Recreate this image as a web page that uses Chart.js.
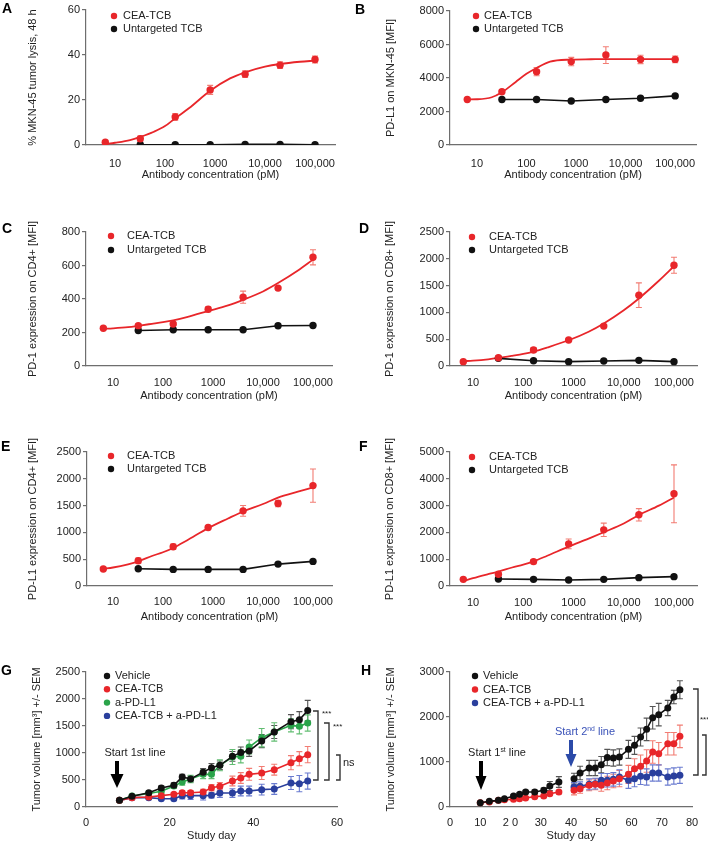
<!DOCTYPE html>
<html><head><meta charset="utf-8">
<script src="https://cdn.jsdelivr.net/npm/chart.js@4/dist/chart.umd.min.js"></script>
<style>
html,body{margin:0;padding:0;background:#fff;}
#fig{position:relative;width:708px;height:843px;overflow:hidden;font-family:"Liberation Sans",Arial,sans-serif;}
canvas{position:absolute;}
.lbl{position:absolute;font-weight:bold;font-size:14px;line-height:14px;color:#000;}
</style></head><body>
<div id="fig">
<canvas id="cA" width="354" height="210" style="left:0;top:0"></canvas>
<canvas id="cB" width="354" height="210" style="left:354px;top:0"></canvas>
<canvas id="cC" width="354" height="210" style="left:0;top:210px"></canvas>
<canvas id="cD" width="354" height="210" style="left:354px;top:210px"></canvas>
<canvas id="cE" width="354" height="210" style="left:0;top:420px"></canvas>
<canvas id="cF" width="354" height="210" style="left:354px;top:420px"></canvas>
<canvas id="cG" width="354" height="213" style="left:0;top:630px"></canvas>
<canvas id="cH" width="354" height="213" style="left:354px;top:630px"></canvas>
<div class="lbl" style="left:2px;top:1px">A</div>
<div class="lbl" style="left:355px;top:2px">B</div>
<div class="lbl" style="left:2px;top:221px">C</div>
<div class="lbl" style="left:359px;top:221px">D</div>
<div class="lbl" style="left:1px;top:439px">E</div>
<div class="lbl" style="left:359px;top:439px">F</div>
<div class="lbl" style="left:1px;top:663px">G</div>
<div class="lbl" style="left:361px;top:663px">H</div>
</div>
<script>
// ---------- data ----------
const conc = [6.4, 32, 160, 800, 4000, 20000, 100000];
const concUnt = [32, 160, 800, 4000, 20000, 100000];
const fitConc = [6.4, 10, 20, 32, 60, 100, 160, 300, 800, 2000, 4000, 10000, 20000, 50000, 100000];
const logTicks = [10, 100, 1000, 10000, 100000];
const logTickLabels = ['10', '100', '1000', '10,000', '100,000'];

const A_cea = [1.2, 2.8, 12.5, 24.5, 31.5, 35.5, 38.0];
const A_ceaErr = [0.5, 1.2, 1.5, 2.0, 1.5, 1.5, 1.5];
const A_unt = [0.1, 0.1, 0.1, 0.3, 0.3, 0.1];
const A_fit = [0.4, 1.0, 2.2, 3.6, 5.9, 8.4, 11.9, 16.3, 24.1, 29.6, 32.3, 34.8, 36.0, 37.0, 37.5];

const B_cea = [2720, 3180, 4380, 4980, 5370, 5110, 5110];
const B_ceaErr = [40, 80, 250, 250, 500, 250, 200];
const B_unt = [2720, 2720, 2630, 2720, 2790, 2930];
const B_fit = [2720, 2730, 2850, 3150, 3750, 4250, 4600, 4980, 5100, 5120, 5130, 5130, 5130, 5130, 5130];

const C_cea = [225, 241, 251, 339, 411, 465, 649];
const C_ceaErr = [5, 8, 8, 15, 36, 8, 45];
const C_unt = [212, 216, 216, 216, 240, 242];
const C_fit = [222, 225, 232, 240, 252, 262, 273, 292, 328, 362, 395, 445, 495, 570, 635];

const D_cea = [81, 155, 298, 484, 744, 1321, 1880];
const D_ceaErr = [10, 15, 45, 20, 30, 230, 150];
const D_unt = [143, 99, 81, 93, 105, 81];
const D_fit = [90, 100, 125, 150, 190, 225, 268, 345, 480, 640, 794, 1040, 1260, 1590, 1861];

const E_cea = [316, 471, 732, 1092, 1402, 1538, 1873];
const E_ceaErr = [10, 50, 50, 20, 100, 60, 310];
const E_unt = [322, 310, 310, 310, 409, 459];
const E_fit = [320, 345, 405, 460, 560, 630, 710, 850, 1080, 1260, 1390, 1530, 1650, 1760, 1840];

const F_cea = [249, 436, 910, 1571, 2095, 2656, 3441];
const F_ceaErr = [20, 60, 80, 180, 250, 230, 1080];
const F_unt = [262, 249, 224, 249, 312, 349];
const F_fit = [180, 290, 440, 536, 690, 800, 920, 1130, 1471, 1770, 2007, 2330, 2650, 3000, 3304];

const G_days = [8, 11, 15, 18, 21, 23, 25, 28, 30, 32, 35, 37, 39, 42, 45, 49, 51, 53];
const G_vehicle = [123, 198, 265, 352, 401, 556, 519, 645, 725, 772, 938, 1010, 1037, 1220, 1389, 1580, 1617, 1785];
const G_vehicleErr = [15, 25, 30, 40, 45, 50, 55, 65, 80, 80, 90, 100, 100, 120, 120, 130, 150, 190];
const G_cea = [123, 173, 185, 210, 235, 265, 265, 278, 358, 383, 481, 537, 605, 630, 691, 821, 895, 969];
const G_ceaErr = [10, 20, 25, 30, 30, 40, 40, 50, 60, 70, 90, 100, 110, 120, 100, 130, 130, 150];
const G_apdl1 = [123, 204, 250, 290, 389, 463, 519, 605, 605, 772, 926, 938, 1111, 1284, 1389, 1512, 1494, 1556];
const G_apdl1Err = [10, 20, 30, 40, 40, 60, 70, 80, 80, 100, 140, 120, 130, 170, 170, 120, 140, 150];
const G_combo = [123, 173, 173, 154, 154, 210, 210, 210, 216, 259, 259, 296, 296, 321, 333, 444, 432, 481];
const G_comboErr = [10, 20, 30, 30, 30, 60, 70, 80, 50, 80, 80, 90, 90, 100, 100, 120, 150, 150];

const H_days1 = [10, 13, 16, 18, 21, 23, 25, 28, 31, 33, 36];
const H_days2 = [41, 43, 46, 48, 50, 52, 54, 56, 59, 61, 63, 65, 67, 69, 72, 74, 76];
const H_gapDay = [38];
const H_vehicle1 = [96, 126, 148, 185, 244, 281, 333, 333, 370, 467, 556];
const H_vehicle1Err = [10, 15, 20, 25, 30, 35, 40, 45, 50, 100, 120];
const H_vehicle2 = [630, 756, 867, 867, 941, 1100, 1089, 1111, 1281, 1370, 1556, 1726, 1985, 2052, 2200, 2444, 2607];
const H_vehicle2Err = [120, 150, 170, 170, 180, 180, 180, 180, 200, 200, 200, 250, 250, 250, 170, 150, 200];
const H_cea1 = [96, 111, 148, 163, 170, 185, 200, 230, 244, 296, 333];
const H_cea1Err = [10, 10, 15, 20, 20, 25, 25, 30, 30, 40, 40];
const H_cea2 = [370, 407, 481, 504, 481, 533, 578, 630, 726, 852, 904, 1022, 1222, 1185, 1407, 1407, 1570];
const H_cea2Err = [100, 100, 120, 120, 130, 150, 150, 180, 200, 220, 250, 250, 250, 250, 250, 250, 250];
const H_combo2 = [444, 459, 504, 519, 593, 593, 615, 667, 593, 630, 681, 667, 756, 756, 667, 689, 704];
const H_combo2Err = [100, 100, 120, 120, 150, 150, 150, 160, 180, 180, 180, 180, 180, 180, 180, 180, 180];
const H_xTickLabels = ['0', '10', '2 0', '30', '40', '50', '60', '70', '80'];

// ---------- styles ----------
const RED = '#e8262a', RED_ERR = '#f27c73';
const BLACK = '#111111', BLACK_ERR = '#555555';
const GREEN = '#2aa44a', GREEN_ERR = '#62bd72';
const BLUE = '#2a3f9d', BLUE_ERR = '#6a7bd0';
const AXIS = '#6e6e6e', TXT = '#222222';
const FAM = '"Liberation Sans", Arial, sans-serif';
Chart.defaults.font.family = FAM;
Chart.defaults.color = TXT;

// ---------- plugins ----------
const errorBars = {
  id: 'errorBars',
  beforeDatasetsDraw(chart) {
    const ctx = chart.ctx, xs = chart.scales.x, ys = chart.scales.y;
    chart.data.datasets.forEach((ds) => {
      if (!ds.errs) return;
      ctx.save();
      ctx.strokeStyle = ds.errColor; ctx.lineWidth = 1.1;
      const cap = 3;
      ds.data.forEach((p, j) => {
        if (!p || p.y == null) return;
        const e = ds.errs[j]; if (!e) return;
        const px = xs.getPixelForValue(p.x);
        const y1 = ys.getPixelForValue(p.y + e), y2 = ys.getPixelForValue(Math.max(p.y - e, 0));
        ctx.beginPath();
        ctx.moveTo(px, y1); ctx.lineTo(px, y2);
        ctx.moveTo(px - cap, y1); ctx.lineTo(px + cap, y1);
        ctx.moveTo(px - cap, y2); ctx.lineTo(px + cap, y2);
        ctx.stroke();
      });
      ctx.restore();
    });
  }
};

function drawParts(ctx, parts, cx, cy, size, color) {
  ctx.save();
  ctx.fillStyle = color; ctx.textBaseline = 'middle';
  let total = 0;
  parts.forEach(p => { ctx.font = (p.sup ? size * 0.62 : size) + 'px ' + FAM; total += ctx.measureText(p.t).width; });
  let x = cx - total / 2;
  parts.forEach(p => {
    ctx.font = (p.sup ? size * 0.62 : size) + 'px ' + FAM;
    ctx.fillText(p.t, x, p.sup ? cy - size * 0.3 : cy);
    x += ctx.measureText(p.t).width;
  });
  ctx.restore();
}

const panelDecor = {
  id: 'panelDecor',
  afterDraw(chart, args, opts) {
    const ctx = chart.ctx;
    const d = opts.decor; if (!d) return;
    ctx.save();
    if (d.legend) {
      const L = d.legend;
      L.items.forEach((it, k) => {
        const y = L.y + k * L.dy;
        ctx.fillStyle = it.color;
        ctx.beginPath(); ctx.arc(L.x, y, 3.2, 0, Math.PI * 2); ctx.fill();
        ctx.fillStyle = TXT; ctx.font = '11px ' + FAM; ctx.textBaseline = 'middle'; ctx.textAlign = 'left';
        ctx.fillText(it.label, L.tx, y);
      });
    }
    (d.arrows || []).forEach(a => {
      ctx.fillStyle = a.color;
      const sw = a.sw / 2, hw = a.hw / 2, hy = a.y2 - a.hl;
      ctx.beginPath();
      ctx.moveTo(a.x - sw, a.y1); ctx.lineTo(a.x + sw, a.y1); ctx.lineTo(a.x + sw, hy);
      ctx.lineTo(a.x + hw, hy); ctx.lineTo(a.x, a.y2); ctx.lineTo(a.x - hw, hy);
      ctx.lineTo(a.x - sw, hy); ctx.closePath(); ctx.fill();
    });
    (d.texts || []).forEach(t => drawParts(ctx, t.parts, t.x, t.y, t.size, t.color));
    (d.brackets || []).forEach(b => {
      ctx.strokeStyle = '#333'; ctx.lineWidth = 1.4;
      ctx.beginPath();
      ctx.moveTo(b.x - b.w, b.y1); ctx.lineTo(b.x, b.y1); ctx.lineTo(b.x, b.y2); ctx.lineTo(b.x - b.w, b.y2);
      ctx.stroke();
    });
    (d.marks || []).forEach(m => {
      ctx.fillStyle = TXT; ctx.font = m.size + 'px ' + FAM; ctx.textBaseline = 'middle'; ctx.textAlign = 'left';
      ctx.fillText(m.t, m.x, m.y);
    });
    ctx.restore();
  }
};

const TICKF = {size: 11, family: FAM};
const TITLEF = {size: 11, family: FAM};

function yScale(c) {
  return {
    type: 'linear', min: 0, max: c.yMax,
    ticks: {stepSize: c.yStep, font: TICKF, color: TXT, padding: 2, callback: v => String(v)},
    grid: {drawOnChartArea: false, drawTicks: true, tickLength: 4, color: AXIS, lineWidth: 1.2},
    border: {display: true, color: AXIS, width: 1.2},
    title: {display: true, text: c.yTitle, font: TITLEF, color: TXT, padding: {top: c.yTitleX - 6.6, bottom: 0}},
    afterFit: s => { s.width = c.axisX; }
  };
}

function xTitle(c, text) {
  return {display: true, text: text, font: TITLEF, color: TXT, padding: {top: 0, bottom: Math.max(c.H - c.xTitleY - 6.6, 0)}};
}

function baseOptions(c) {
  return {
    animation: false, responsive: false, devicePixelRatio: 1,
    layout: {padding: {left: 0, top: c.top, right: c.W - c.right, bottom: 0}},
    plugins: {legend: {display: false}, tooltip: {enabled: false}, panelDecor: {decor: c.decor}},
  };
}

function doseChart(id, c) {
  c.W = 354; c.H = 210;
  const opts = baseOptions(c);
  opts.scales = {
    x: {
      type: 'logarithmic', min: c.logMin, max: c.logMax,
      afterBuildTicks: s => { s.ticks = logTicks.map(v => ({value: v})); },
      ticks: {font: TICKF, color: TXT, padding: c.xPad, maxRotation: 0, autoSkip: false,
        callback: (v) => logTickLabels[logTicks.indexOf(v)]},
      grid: {display: false, drawTicks: false},
      border: {display: true, color: AXIS, width: 1.2},
      title: xTitle(c, 'Antibody concentration (pM)'),
      afterFit: s => { s.height = c.H - c.bottom; }
    },
    y: yScale(c)
  };
  c.decor.legend.items = [{label: 'CEA-TCB', color: RED}, {label: 'Untargeted TCB', color: BLACK}];
  return new Chart(document.getElementById(id), {
    type: 'line',
    data: {datasets: [
      {label: 'CEA-TCB', data: conc.map((x, i) => ({x, y: c.cea[i]})), showLine: false,
        pointRadius: 3.7, pointBackgroundColor: RED, pointBorderColor: RED, pointBorderWidth: 0,
        errs: c.ceaErr, errColor: RED_ERR},
      {label: 'Untargeted TCB', data: concUnt.map((x, i) => ({x, y: c.unt[i]})),
        borderColor: BLACK, borderWidth: 1.6, pointRadius: 3.7, pointBackgroundColor: BLACK, pointBorderColor: BLACK, pointBorderWidth: 0, tension: 0},
      {label: 'fit', data: fitConc.map((x, i) => ({x, y: c.fit[i]})),
        borderColor: RED, borderWidth: 1.8, pointRadius: 0, cubicInterpolationMode: 'monotone'}
    ]},
    options: opts,
    plugins: [errorBars, panelDecor]
  });
}

doseChart('cA', {yMax: 60, yStep: 20, yTitle: '% MKN-45 tumor lysis, 48 h', axisX: 86, top: 10, bottom: 145, right: 335,
  logMin: 2.63, logMax: 251000, yTitleX: 33, xTitleY: 175, xPad: 12,
  cea: A_cea, ceaErr: A_ceaErr, unt: A_unt, fit: A_fit,
  decor: {legend: {x: 114, y: 16, tx: 123, dy: 13}}});
doseChart('cB', {yMax: 8000, yStep: 2000, yTitle: 'PD-L1 on MKN-45 [MFI]', axisX: 96, top: 11, bottom: 145, right: 343,
  logMin: 2.87, logMax: 263000, yTitleX: 37, xTitleY: 175, xPad: 12,
  cea: B_cea, ceaErr: B_ceaErr, unt: B_unt, fit: B_fit,
  decor: {legend: {x: 122, y: 16, tx: 130, dy: 13}}});
doseChart('cC', {yMax: 800, yStep: 200, yTitle: 'PD-1 expression on CD4+ [MFI]', axisX: 86, top: 22, bottom: 156, right: 332,
  logMin: 2.88, logMax: 240000, yTitleX: 33, xTitleY: 186, xPad: 10,
  cea: C_cea, ceaErr: C_ceaErr, unt: C_unt, fit: C_fit,
  decor: {legend: {x: 111, y: 26, tx: 127, dy: 14}}});
doseChart('cD', {yMax: 2500, yStep: 500, yTitle: 'PD-1 expression on CD8+ [MFI]', axisX: 96, top: 22, bottom: 156, right: 343,
  logMin: 3.48, logMax: 287000, yTitleX: 36, xTitleY: 186, xPad: 10,
  cea: D_cea, ceaErr: D_ceaErr, unt: D_unt, fit: D_fit,
  decor: {legend: {x: 118, y: 27, tx: 135, dy: 13}}});
doseChart('cE', {yMax: 2500, yStep: 500, yTitle: 'PD-L1 expression on CD4+ [MFI]', axisX: 87, top: 32, bottom: 166, right: 332,
  logMin: 3.02, logMax: 240000, yTitleX: 33, xTitleY: 197, xPad: 9,
  cea: E_cea, ceaErr: E_ceaErr, unt: E_unt, fit: E_fit,
  decor: {legend: {x: 111, y: 36, tx: 127, dy: 13}}});
doseChart('cF', {yMax: 5000, yStep: 1000, yTitle: 'PD-L1 expression on CD8+ [MFI]', axisX: 96, top: 32, bottom: 166, right: 343,
  logMin: 3.48, logMax: 287000, yTitleX: 36, xTitleY: 197, xPad: 10,
  cea: F_cea, ceaErr: F_ceaErr, unt: F_unt, fit: F_fit,
  decor: {legend: {x: 118, y: 37, tx: 135, dy: 13}}});

// ---------- tumor growth charts ----------
function series(label, days, vals, errs, color, errColor) {
  return {label, data: days.map((x, i) => ({x, y: vals[i]})), errs, errColor,
    borderColor: color, borderWidth: 1.6, pointRadius: 3.5, pointBackgroundColor: color,
    pointBorderColor: color, pointBorderWidth: 0, tension: 0, spanGaps: false};
}
function joinGap(a, b) { return a.concat([null], b); }

function growthChart(id, c, datasets) {
  c.W = 354; c.H = 213;
  const opts = baseOptions(c);
  opts.scales = {
    x: {
      type: 'linear', min: 0, max: c.xMax,
      ticks: {stepSize: c.xStep, font: TICKF, color: TXT, padding: 9, maxRotation: 0, autoSkip: false,
        callback: c.xLabels ? ((v, i) => c.xLabels[i]) : (v => String(v))},
      grid: {display: false, drawTicks: false},
      border: {display: true, color: AXIS, width: 1.2},
      title: xTitle(c, 'Study day'),
      afterFit: s => { s.height = c.H - c.bottom; }
    },
    y: yScale(c)
  };
  return new Chart(document.getElementById(id), {
    type: 'line', data: {datasets}, options: opts, plugins: [errorBars, panelDecor]
  });
}

growthChart('cG', {yMax: 2500, yStep: 500, yTitle: 'Tumor volume [mm³] +/- SEM', axisX: 86, top: 42, bottom: 177, right: 337,
  xMax: 60, xStep: 20, yTitleX: 37, xTitleY: 206,
  decor: {
    legend: {x: 107, y: 46, tx: 115, dy: 13.3, items: [
      {label: 'Vehicle', color: BLACK}, {label: 'CEA-TCB', color: RED},
      {label: 'a-PD-L1', color: GREEN}, {label: 'CEA-TCB + a-PD-L1', color: BLUE}]},
    arrows: [{x: 117, y1: 131, y2: 158, sw: 4, hw: 13, hl: 14, color: '#000'}],
    texts: [{parts: [{t: 'Start 1st line'}], x: 135, y: 123, size: 11, color: TXT}],
    brackets: [{x: 318, y1: 81, y2: 150, w: 5}, {x: 329, y1: 93, y2: 150, w: 5}, {x: 340, y1: 125, y2: 150, w: 4}],
    marks: [{t: '***', x: 322, y: 84, size: 8}, {t: '***', x: 333, y: 97, size: 8}, {t: 'ns', x: 343, y: 133, size: 11}]
  }},
  [series('Vehicle', G_days, G_vehicle, G_vehicleErr, BLACK, BLACK_ERR),
   series('CEA-TCB', G_days, G_cea, G_ceaErr, RED, RED_ERR),
   series('a-PD-L1', G_days, G_apdl1, G_apdl1Err, GREEN, GREEN_ERR),
   series('CEA-TCB + a-PD-L1', G_days, G_combo, G_comboErr, BLUE, BLUE_ERR)]);

const H_daysAll = H_days1.concat(H_gapDay, H_days2);
growthChart('cH', {yMax: 3000, yStep: 1000, yTitle: 'Tumor volume [mm³] +/- SEM', axisX: 96, top: 42, bottom: 177, right: 338,
  xMax: 80, xStep: 10, xLabels: H_xTickLabels, yTitleX: 37, xTitleY: 207,
  decor: {
    legend: {x: 121, y: 46, tx: 129, dy: 13.5, items: [
      {label: 'Vehicle', color: BLACK}, {label: 'CEA-TCB', color: RED}, {label: 'CEA-TCB + a-PD-L1', color: BLUE}]},
    arrows: [{x: 127, y1: 131, y2: 160, sw: 4, hw: 11, hl: 14, color: '#000'},
             {x: 217, y1: 110, y2: 137, sw: 4, hw: 11, hl: 13, color: '#2b4aa8'}],
    texts: [{parts: [{t: 'Start 1'}, {t: 'st', sup: 1}, {t: ' line'}], x: 143, y: 123, size: 11, color: TXT},
            {parts: [{t: 'Start 2'}, {t: 'nd', sup: 1}, {t: ' line'}], x: 231, y: 102, size: 11, color: '#3a52b8'}],
    brackets: [{x: 344, y1: 59, y2: 145, w: 5}, {x: 352, y1: 105, y2: 145, w: 4}],
    marks: [{t: '***', x: 346, y: 90, size: 8}, {t: '*', x: 354, y: 124, size: 8}]
  }},
  [series('Vehicle', H_daysAll, joinGap(H_vehicle1, H_vehicle2), joinGap(H_vehicle1Err, H_vehicle2Err), BLACK, BLACK_ERR),
   series('CEA-TCB', H_daysAll, joinGap(H_cea1, H_cea2), joinGap(H_cea1Err, H_cea2Err), RED, RED_ERR),
   series('CEA-TCB + a-PD-L1', H_days2, H_combo2, H_combo2Err, BLUE, BLUE_ERR)]);
</script>
</body></html>
